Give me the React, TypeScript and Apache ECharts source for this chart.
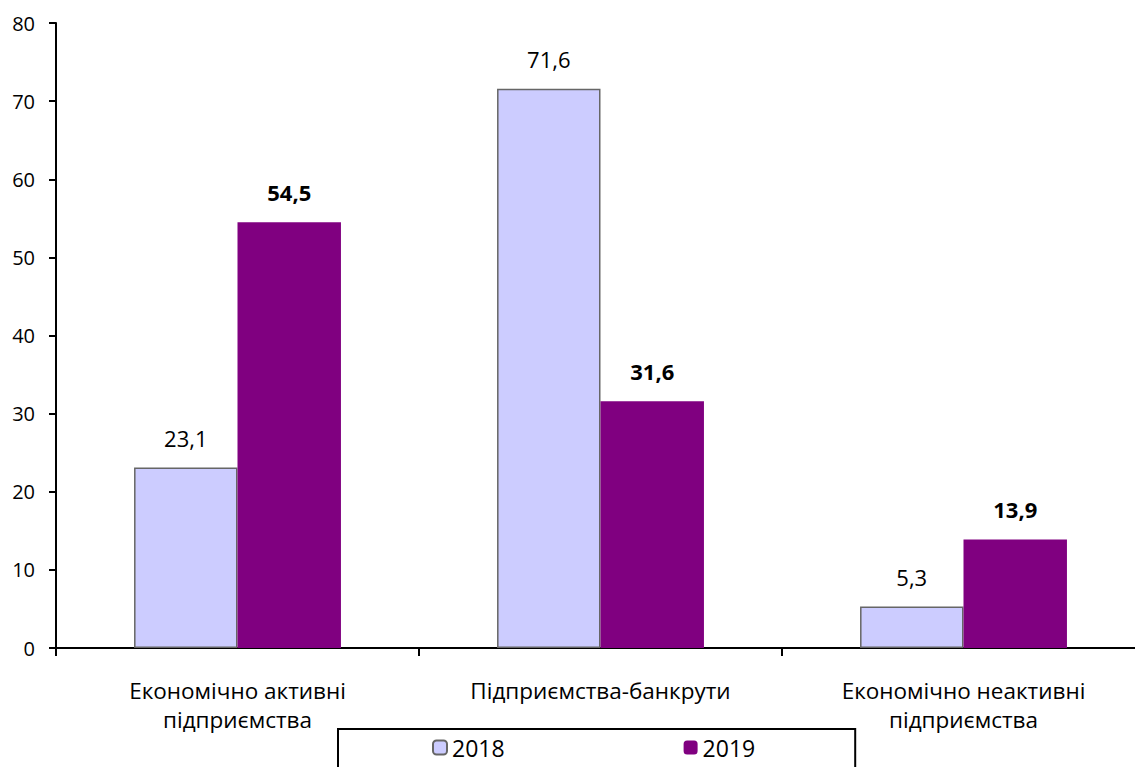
import React, { useEffect, useRef } from "react";
import * as echarts from "echarts";

const categories = ["Економічно активні\nпідприємства", "Підприємства-банкрути", "Економічно неактивні\nпідприємства"];
const values2018 = [23.1, 71.6, 5.3];
const values2019 = [54.5, 31.6, 13.9];
const seriesNames = ["2018", "2019"];

const FONT = "'Open Sans', 'Noto Sans', sans-serif";
const fmt = (p: any) => String(p.value).replace(".", ",");

export default function App() {
  const ref = useRef<HTMLDivElement>(null);
  useEffect(() => {
    if (!ref.current) return;
    const chart = echarts.init(ref.current, undefined, { renderer: "svg" });
    chart.setOption({
      animation: false,
      backgroundColor: "#ffffff",
      textStyle: { fontFamily: FONT },
      grid: { left: 56, top: 23, width: 1089, height: 625, containLabel: false },
      legend: {
        left: 338,
        top: 729,
        orient: "horizontal",
        itemWidth: 14,
        itemHeight: 14,
        itemGap: 179,
        padding: [7, 100, 22, 94],
        borderColor: "#000",
        borderWidth: 2,
        textStyle: { fontSize: 23, color: "#000", fontFamily: FONT },
        data: seriesNames,
      },
      xAxis: {
        type: "category",
        data: categories,
        axisLine: { lineStyle: { color: "#000", width: 2 } },
        axisTick: { show: true, length: 8, lineStyle: { color: "#000", width: 2 }, alignWithLabel: false },
        axisLabel: { color: "#000", fontSize: 22.5, lineHeight: 29, margin: 28, fontFamily: FONT },
      },
      yAxis: {
        type: "value",
        min: 0,
        max: 80,
        interval: 10,
        splitLine: { show: false },
        axisLine: { show: true, lineStyle: { color: "#000", width: 2 } },
        axisTick: { show: true, length: 7, lineStyle: { color: "#000", width: 2 } },
        axisLabel: { color: "#000", fontSize: 20, margin: 21, fontFamily: FONT },
      },
      series: [
        {
          name: seriesNames[0],
          type: "bar",
          data: values2018,
          barGap: "0%",
          barCategoryGap: "43%",
          itemStyle: { color: "#ccccff", borderColor: "#666666", borderWidth: 1.5 },
          label: { show: true, position: "top", distance: 19, fontSize: 22, color: "#000", formatter: fmt, fontFamily: FONT },
        },
        {
          name: seriesNames[1],
          type: "bar",
          data: values2019,
          barGap: "0%",
          barCategoryGap: "43%",
          itemStyle: { color: "#800080" },
          label: { show: true, position: "top", distance: 19, fontSize: 22, fontWeight: "bold", color: "#000", formatter: fmt, fontFamily: FONT },
        },
      ],
    });
    return () => chart.dispose();
  }, []);
  return <div ref={ref} style={{ position: "fixed", left: 0, top: 0, width: 1160, height: 767 }} />;
}
